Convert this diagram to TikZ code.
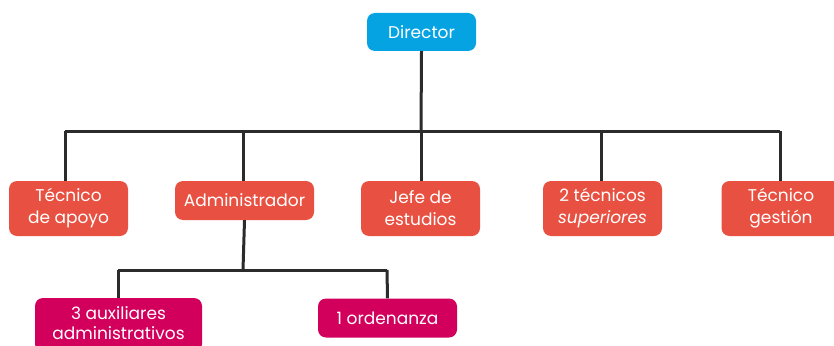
\documentclass[tikz,border=0pt]{standalone}
\usepackage{fontspec}
\setmainfont{Poppins}
\definecolor{dirblue}{HTML}{06A3E2}
\definecolor{boxred}{HTML}{E85142}
\definecolor{boxmag}{HTML}{D2005C}
\definecolor{linegray}{HTML}{2B2B2B}
\tikzset{
  orgbox/.style={rounded corners=8pt, text=white, align=center, inner sep=0pt,
    font=\fontsize{17}{22}\selectfont},
  bluebox/.style={orgbox, fill=dirblue},
  redbox/.style={orgbox, fill=boxred},
  magbox/.style={orgbox, fill=boxmag},
  conn/.style={draw=linegray, line width=3pt}
}
\begin{document}
\begin{tikzpicture}[x=1pt,y=-1pt]
\useasboundingbox (0,0) rectangle (834,345);
\clip (0,0) rectangle (834,345);
\node[bluebox, minimum width=109pt, minimum height=38pt] (dir) at (421.5,32) {Director};
\node[redbox, minimum width=119pt, minimum height=55pt] (apoyo) at (68.5,208.5) {Técnico\\de apoyo};
\node[redbox, minimum width=139pt, minimum height=39pt] (admin) at (244.5,200.5) {Administrador};
\node[redbox, minimum width=119pt, minimum height=55pt] (jefe) at (420.5,208.5) {Jefe de\\estudios};
\node[redbox, minimum width=119pt, minimum height=55pt] (sup) at (602.5,208.5) {2 técnicos\\\textit{superiores}};
\node[redbox, minimum width=119pt, minimum height=55pt] (gest) at (781,208.5) {Técnico\\gestión};
\node[magbox, minimum width=167pt, minimum height=54pt] (aux) at (118.5,325) {};
\node[text=white, align=center, inner sep=0pt, font=\fontsize{17}{20}\selectfont] (auxt) at (118.5,323) {3 auxiliares\\administrativos};
\node[magbox, minimum width=139pt, minimum height=39pt] (ord) at (387.5,318) {1 ordenanza};
\coordinate (bar) at (421,131);
\coordinate (bar2) at (243,270);
\draw[conn] (dir.south) -- (bar);
\draw[conn] (65,131) -- (780,131);
\foreach \n/\xx in {apoyo/65, admin/243, jefe/421, sup/601, gest/780}
  \draw[conn] (\xx,131) -- (\xx,181);
\draw[conn] (admin.south) -- (bar2);
\draw[conn] (118,270) -- (387,270);
\draw[conn] (118,270) -- (aux.north -| 118,0);
\draw[conn] (387,270) -- (ord.north);
\end{tikzpicture}
\end{document}
